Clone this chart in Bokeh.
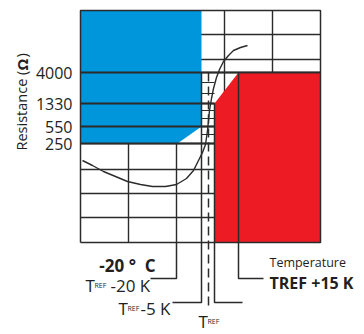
import math
from bokeh.plotting import figure
from bokeh.models import Range1d
from bokeh.core.properties import value
from bokeh.embed import file_html
from bokeh.resources import INLINE

# ---- data (schematic units: x = temperature scale, y = resistance scale) ----
res_labels = ["250", "550", "1330", "4000"]
res_pos = [99, 116, 139, 170]
col_pos = [0, 48, 96, 144, 192, 240]
row_low = [25, 49, 73]
row_high = [183, 208, 232]
row_minor = [108, 124, 132, 149, 160]
# characteristic temperatures
t_m20 = 96      # T_REF -20 K
t_m5 = 121      # T_REF -5 K
t_ref = 128     # T_REF
t_sw = 134      # switching start
t_p15 = 158     # T_REF +15 K
# PTC resistance curve
curve_x = [2, 12, 23, 35, 47, 60, 72, 85, 96, 106, 113, 118, 122, 125, 127, 128,
           129, 131, 133, 136, 139, 143, 148, 153, 160, 167]
curve_y = [82, 77, 71, 66, 61, 58, 56, 56, 58, 64, 72, 82, 90, 98, 112, 122,
           132, 144, 154, 165, 173, 181, 187, 192, 195, 197]

X0, X1 = col_pos[0], col_pos[-1]
Y0, Y1 = 0, row_high[-1]
r250, r550, r1330, r4000 = res_pos

BLUE = "#0096db"
RED = "#ed1c24"
INK = "#231f20"
LN = "#2b2b2b"
FONT = value("Open Sans")

p = figure(width=364, height=334, output_backend="svg", toolbar_location=None,
           x_range=Range1d(-80, 284), y_range=Range1d(-92, 242), min_border=0)
p.axis.visible = False
p.grid.visible = False
p.outline_line_color = None
p.background_fill_color = "white"

# grid
for y in row_low + res_pos + row_high[:-1]:
    p.line([X0, X1], [y, y], line_color=LN, line_width=1.4)
for x in col_pos[1:-1]:
    p.line([x, x], [Y0, Y1], line_color=LN, line_width=1.4)
for y in row_minor:
    p.line([t_m5, t_sw], [y, y], line_color=LN, line_width=1.1)

# blue (low resistance region) and red (high region)
p.patch([X0, t_m5, t_m5, t_m20 + 1, X0], [Y1, Y1, r550, r250, r250],
        fill_color=BLUE, line_color=None)
p.patch([t_sw, t_p15, X1, X1, t_sw], [r1330, r4000, r4000, Y0, Y0],
        fill_color=RED, line_color=None)

# level lines across blue
p.line([X0, X1], [r4000, r4000], line_color=LN, line_width=2)
for y in (r1330, r550, r250):
    p.line([X0, t_sw], [y, y], line_color=LN, line_width=2)

# leader lines
p.line([t_p15, t_p15, 183], [r4000, -36, -36], line_color=LN, line_width=1.5)
p.line([t_sw, t_sw, 162], [r1330, -60, -60], line_color=LN, line_width=1.5)
p.line([t_m5, t_m5, 92], [r4000, -60, -60], line_color=LN, line_width=1.5)
p.line([t_ref, t_ref], [r4000, -67], line_color=LN, line_width=1.5, line_dash="9 5")
p.line([t_m20, t_m20, 70], [Y0, -36, -36], line_color=LN, line_width=1.5)

# frame
p.line([X0, X1, X1, X0, X0], [Y0, Y0, Y1, Y1, Y0], line_color=LN, line_width=1.5)

# curve
p.line(curve_x, curve_y, line_color=LN, line_width=1.4)

# y tick labels
p.text(x=[-8] * 4, y=res_pos, text=res_labels, text_font=FONT, text_font_size="16px",
       text_color=INK, text_align="right", text_baseline="middle")

# axis title (rotated)
p.text(x=[-59], y=[92], text=["Resistance ("], text_font=FONT, text_font_size="14.5px",
       text_color=INK, angle=math.pi / 2, text_align="left", text_baseline="middle")
p.text(x=[-59], y=[172], text=["Ω"], text_font=FONT, text_font_size="15px",
       text_font_style="bold", text_color=INK, angle=math.pi / 2,
       text_align="left", text_baseline="middle")
p.text(x=[-59], y=[185], text=[")"], text_font=FONT, text_font_size="14.5px",
       text_color=INK, angle=math.pi / 2, text_align="left", text_baseline="middle")

# bottom labels
p.text(x=[47], y=[-23], text=["-20 °\u00a0\u00a0C"], text_font=FONT, text_font_size="17px",
       text_font_style="bold", text_color=INK, text_align="center", text_baseline="alphabetic")
p.text(x=[189], y=[-20], text=["Temperature"], text_font=FONT, text_font_size="12.5px",
       text_color=INK, text_align="left", text_baseline="alphabetic")
p.text(x=[189], y=[-40], text=["TREF +15 K"], text_font=FONT, text_font_size="16px",
       text_font_style="bold", text_color=INK, text_align="left", text_baseline="alphabetic")

T_x = [5, 38, 118]
T_y = [-43, -66, -79]
sub_x = [14, 47, 127]
rest_x = [30, 60]
rest_t = ["-20 K", "-5 K"]
p.text(x=T_x, y=T_y, text=["T"] * 3, text_font=FONT, text_font_size="17px",
       text_color=INK, text_align="left", text_baseline="alphabetic")
p.text(x=sub_x, y=T_y, text=["REF"] * 3, text_font=FONT, text_font_size="7px",
       text_color=INK, text_align="left", text_baseline="alphabetic")
p.text(x=rest_x, y=T_y[:2], text=rest_t, text_font=FONT, text_font_size="17px",
       text_color=INK, text_align="left", text_baseline="alphabetic")

open("out.html", "w").write(file_html(p, INLINE))
